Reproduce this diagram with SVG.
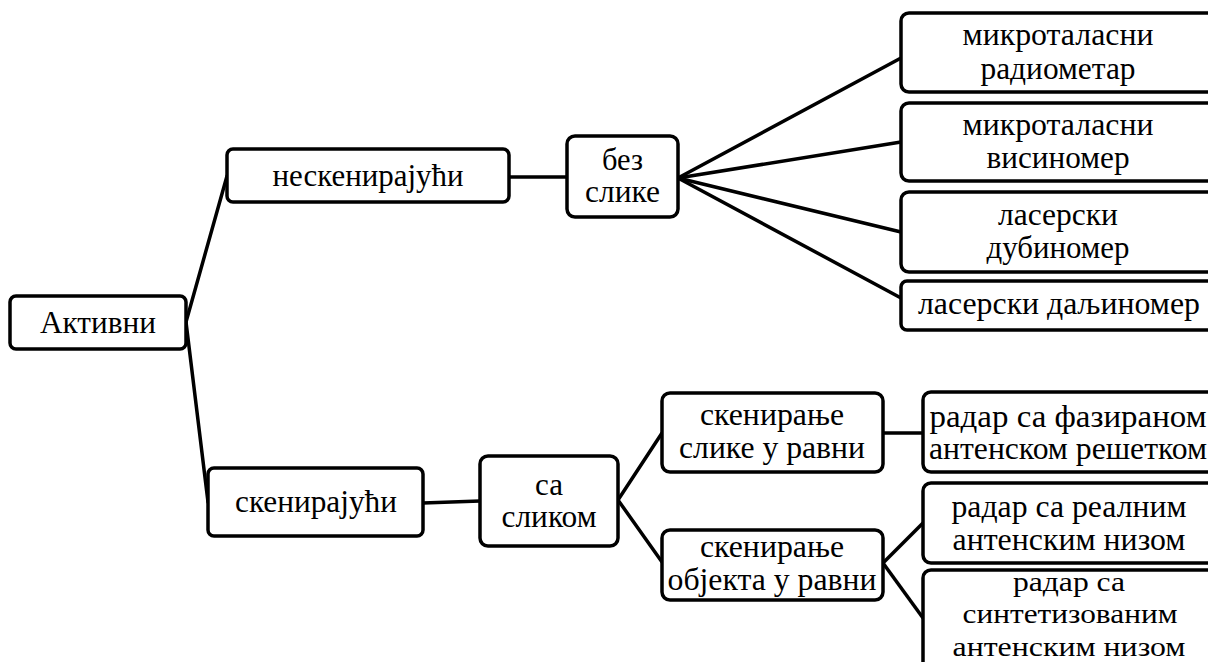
<svg xmlns="http://www.w3.org/2000/svg" width="1208" height="662" viewBox="0 0 1208 662">
<style>
.box{fill:#fff;stroke:#000;stroke-width:3.5;}
.t{font-family:"Liberation Serif","DejaVu Serif","Times New Roman",serif;font-size:31px;fill:#000;text-anchor:middle;}
.s{font-size:27px;}
.c{fill:none;stroke:#000;stroke-width:3.5;stroke-linecap:round;}
</style>
<rect width="1208" height="662" fill="#fff"/>
<g id="connectors">
<line class="c" x1="186" y1="322" x2="227" y2="176"/>
<line class="c" x1="186" y1="322" x2="208" y2="502"/>
<line class="c" x1="509" y1="177" x2="567" y2="177"/>
<line class="c" x1="678" y1="178" x2="901" y2="58"/>
<line class="c" x1="678" y1="178" x2="901" y2="142"/>
<line class="c" x1="678" y1="178" x2="901" y2="232"/>
<line class="c" x1="678" y1="178" x2="901" y2="298"/>
<line class="c" x1="423" y1="503" x2="480" y2="501"/>
<line class="c" x1="618" y1="500" x2="662" y2="433"/>
<line class="c" x1="618" y1="500" x2="662" y2="562"/>
<line class="c" x1="883" y1="433" x2="923" y2="433"/>
<line class="c" x1="883" y1="563" x2="923" y2="523"/>
<line class="c" x1="883" y1="563" x2="923" y2="618"/>
</g>
<g id="n-aktivni"><rect class="box" x="10" y="296" width="176" height="53" rx="6"/><text class="t" x="98" y="333" textLength="116" lengthAdjust="spacingAndGlyphs">Активни</text></g>
<g id="n-neskenirajuci"><rect class="box" x="227" y="149" width="282" height="53" rx="6"/><text class="t" x="368" y="186" textLength="191" lengthAdjust="spacingAndGlyphs">нескенирајући</text></g>
<g id="n-bez-slike"><rect class="box" x="567" y="136" width="111" height="81" rx="8"/><text class="t" x="622.5" y="170" textLength="41" lengthAdjust="spacingAndGlyphs">без</text><text class="t" x="622.5" y="202" textLength="75" lengthAdjust="spacingAndGlyphs">слике</text></g>
<g id="n-radiometar"><rect class="box" x="901" y="13" width="314" height="79" rx="8"/><text class="t" x="1058" y="45" textLength="191" lengthAdjust="spacingAndGlyphs">микроталасни</text><text class="t" x="1058" y="79" textLength="155" lengthAdjust="spacingAndGlyphs">радиометар</text></g>
<g id="n-visinomer"><rect class="box" x="901" y="103" width="314" height="78" rx="8"/><text class="t" x="1058" y="135" textLength="191" lengthAdjust="spacingAndGlyphs">микроталасни</text><text class="t" x="1058" y="168" textLength="143" lengthAdjust="spacingAndGlyphs">висиномер</text></g>
<g id="n-dubinomer"><rect class="box" x="901" y="192" width="314" height="80" rx="8"/><text class="t" x="1058" y="225" textLength="120" lengthAdjust="spacingAndGlyphs">ласерски</text><text class="t" x="1058" y="258" textLength="143" lengthAdjust="spacingAndGlyphs">дубиномер</text></g>
<g id="n-daljinomer"><rect class="box" x="901" y="281" width="314" height="49" rx="6"/><text class="t" x="1059" y="314" textLength="282" lengthAdjust="spacingAndGlyphs">ласерски даљиномер</text></g>
<g id="n-skenirajuci"><rect class="box" x="208" y="468" width="215" height="68" rx="6"/><text class="t" x="316" y="512" textLength="162" lengthAdjust="spacingAndGlyphs">скенирајући</text></g>
<g id="n-sa-slikom"><rect class="box" x="480" y="456" width="138" height="90" rx="8"/><text class="t" x="549" y="495" textLength="28" lengthAdjust="spacingAndGlyphs">са</text><text class="t" x="549" y="527" textLength="95" lengthAdjust="spacingAndGlyphs">сликом</text></g>
<g id="n-sken-slike"><rect class="box" x="662" y="393" width="221" height="79" rx="8"/><text class="t" x="772" y="425" textLength="144" lengthAdjust="spacingAndGlyphs">скенирање</text><text class="t" x="772" y="458" textLength="186" lengthAdjust="spacingAndGlyphs">слике у равни</text></g>
<g id="n-sken-objekta"><rect class="box" x="662" y="530" width="221" height="70" rx="8"/><text class="t" x="772" y="557" textLength="144" lengthAdjust="spacingAndGlyphs">скенирање</text><text class="t" x="772" y="590" textLength="209" lengthAdjust="spacingAndGlyphs">објекта у равни</text></g>
<g id="n-fazirana"><rect class="box" x="923" y="392" width="292" height="80" rx="8"/><text class="t" x="1068" y="427" textLength="277" lengthAdjust="spacingAndGlyphs">радар са фазираном</text><text class="t" x="1068" y="459" textLength="278" lengthAdjust="spacingAndGlyphs">антенском решетком</text></g>
<g id="n-realni"><rect class="box" x="923" y="483" width="292" height="80" rx="8"/><text class="t" x="1069" y="517" textLength="235" lengthAdjust="spacingAndGlyphs">радар са реалним</text><text class="t" x="1069" y="550" textLength="233" lengthAdjust="spacingAndGlyphs">антенским низом</text></g>
<g id="n-sinteticki"><rect class="box" x="923" y="570" width="292" height="110" rx="8"/><text class="t s" x="1069" y="591" textLength="112" lengthAdjust="spacingAndGlyphs">радар са</text><text class="t s" x="1070" y="623" textLength="215" lengthAdjust="spacingAndGlyphs">синтетизованим</text><text class="t s" x="1069" y="656" textLength="233" lengthAdjust="spacingAndGlyphs">антенским низом</text></g>
</svg>
